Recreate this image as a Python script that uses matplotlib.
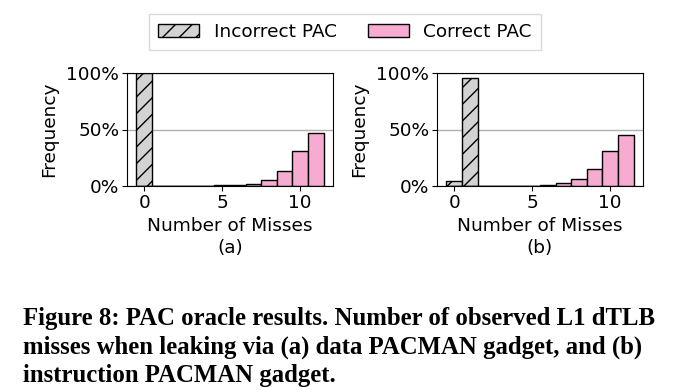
import numpy as np
import matplotlib.pyplot as plt

# number of misses (histogram bins)
misses = np.arange(12)

# (a) data PACMAN gadget, fraction of trials
incorrect_a = [1.0, 0, 0, 0, 0, 0, 0, 0, 0, 0, 0, 0]
correct_a = [0, 0, 0, 0, 0, 0.005, 0.010, 0.022, 0.050, 0.136, 0.309, 0.465]

# (b) instruction PACMAN gadget
incorrect_b = [0.041, 0.959, 0, 0, 0, 0, 0, 0, 0, 0, 0, 0]
correct_b = [0, 0, 0, 0, 0, 0.003, 0.009, 0.025, 0.062, 0.150, 0.314, 0.452]

panels = ['(a)', '(b)']

gray = '#d3d3d3'
pink = '#f7abd1'
fs = 13.3

plt.rcParams['font.family'] = 'DejaVu Sans'
plt.rcParams['hatch.linewidth'] = 1.0

W, H = 676, 392
fig = plt.figure(figsize=(W / 100, H / 100), dpi=100)

axes = []
for left in [127, 437]:
    axes.append(fig.add_axes([left / W, 1 - 186 / H, 206 / W, 113 / H]))

data = [(incorrect_a, correct_a), (incorrect_b, correct_b)]
for ax, (inc, cor), name in zip(axes, data, panels):
    ax.set_axisbelow(True)
    ax.grid(axis='y', color='#b0b0b0', linewidth=1)
    h1 = ax.bar(misses, inc, width=1, color=gray, edgecolor='black',
                linewidth=1, hatch='//', label='Incorrect PAC')
    h2 = ax.bar(misses, cor, width=1, color=pink, edgecolor='black',
                linewidth=1, label='Correct PAC')
    ax.set_ylim(0, 1)
    ax.set_yticks([0, 0.5, 1])
    ax.set_yticklabels(['0%', '50%', '100%'], fontsize=fs)
    ax.set_xticks([0, 5, 10])
    ax.tick_params(axis='x', labelsize=fs, pad=2)
    ax.tick_params(axis='y', pad=2)
    ax.set_xlabel('Number of Misses\n' + name, fontsize=fs, linespacing=1.3,
                  labelpad=4)
    ax.set_ylabel('Frequency', fontsize=fs, labelpad=6)

fig.legend(handles=[h1, h2], loc='upper center', ncol=2, fontsize=fs,
           bbox_to_anchor=(345 / W, 1 - 14 / H), borderaxespad=0,
           fancybox=False, edgecolor='#d0d0d0', columnspacing=1.7,
           handlelength=2.2, borderpad=0.5)

caption = ('Figure 8: PAC oracle results. Number of observed L1 dTLB\n'
           'misses when leaking via (a) data PACMAN gadget, and (b)\n'
           'instruction PACMAN gadget.')
fig.text(23 / W, 1 - 382 / H, caption, fontsize=17.8, fontweight='bold',
         family='Liberation Serif', va='baseline', ha='left', linespacing=1.3)

fig.savefig('out.png', dpi=100)
